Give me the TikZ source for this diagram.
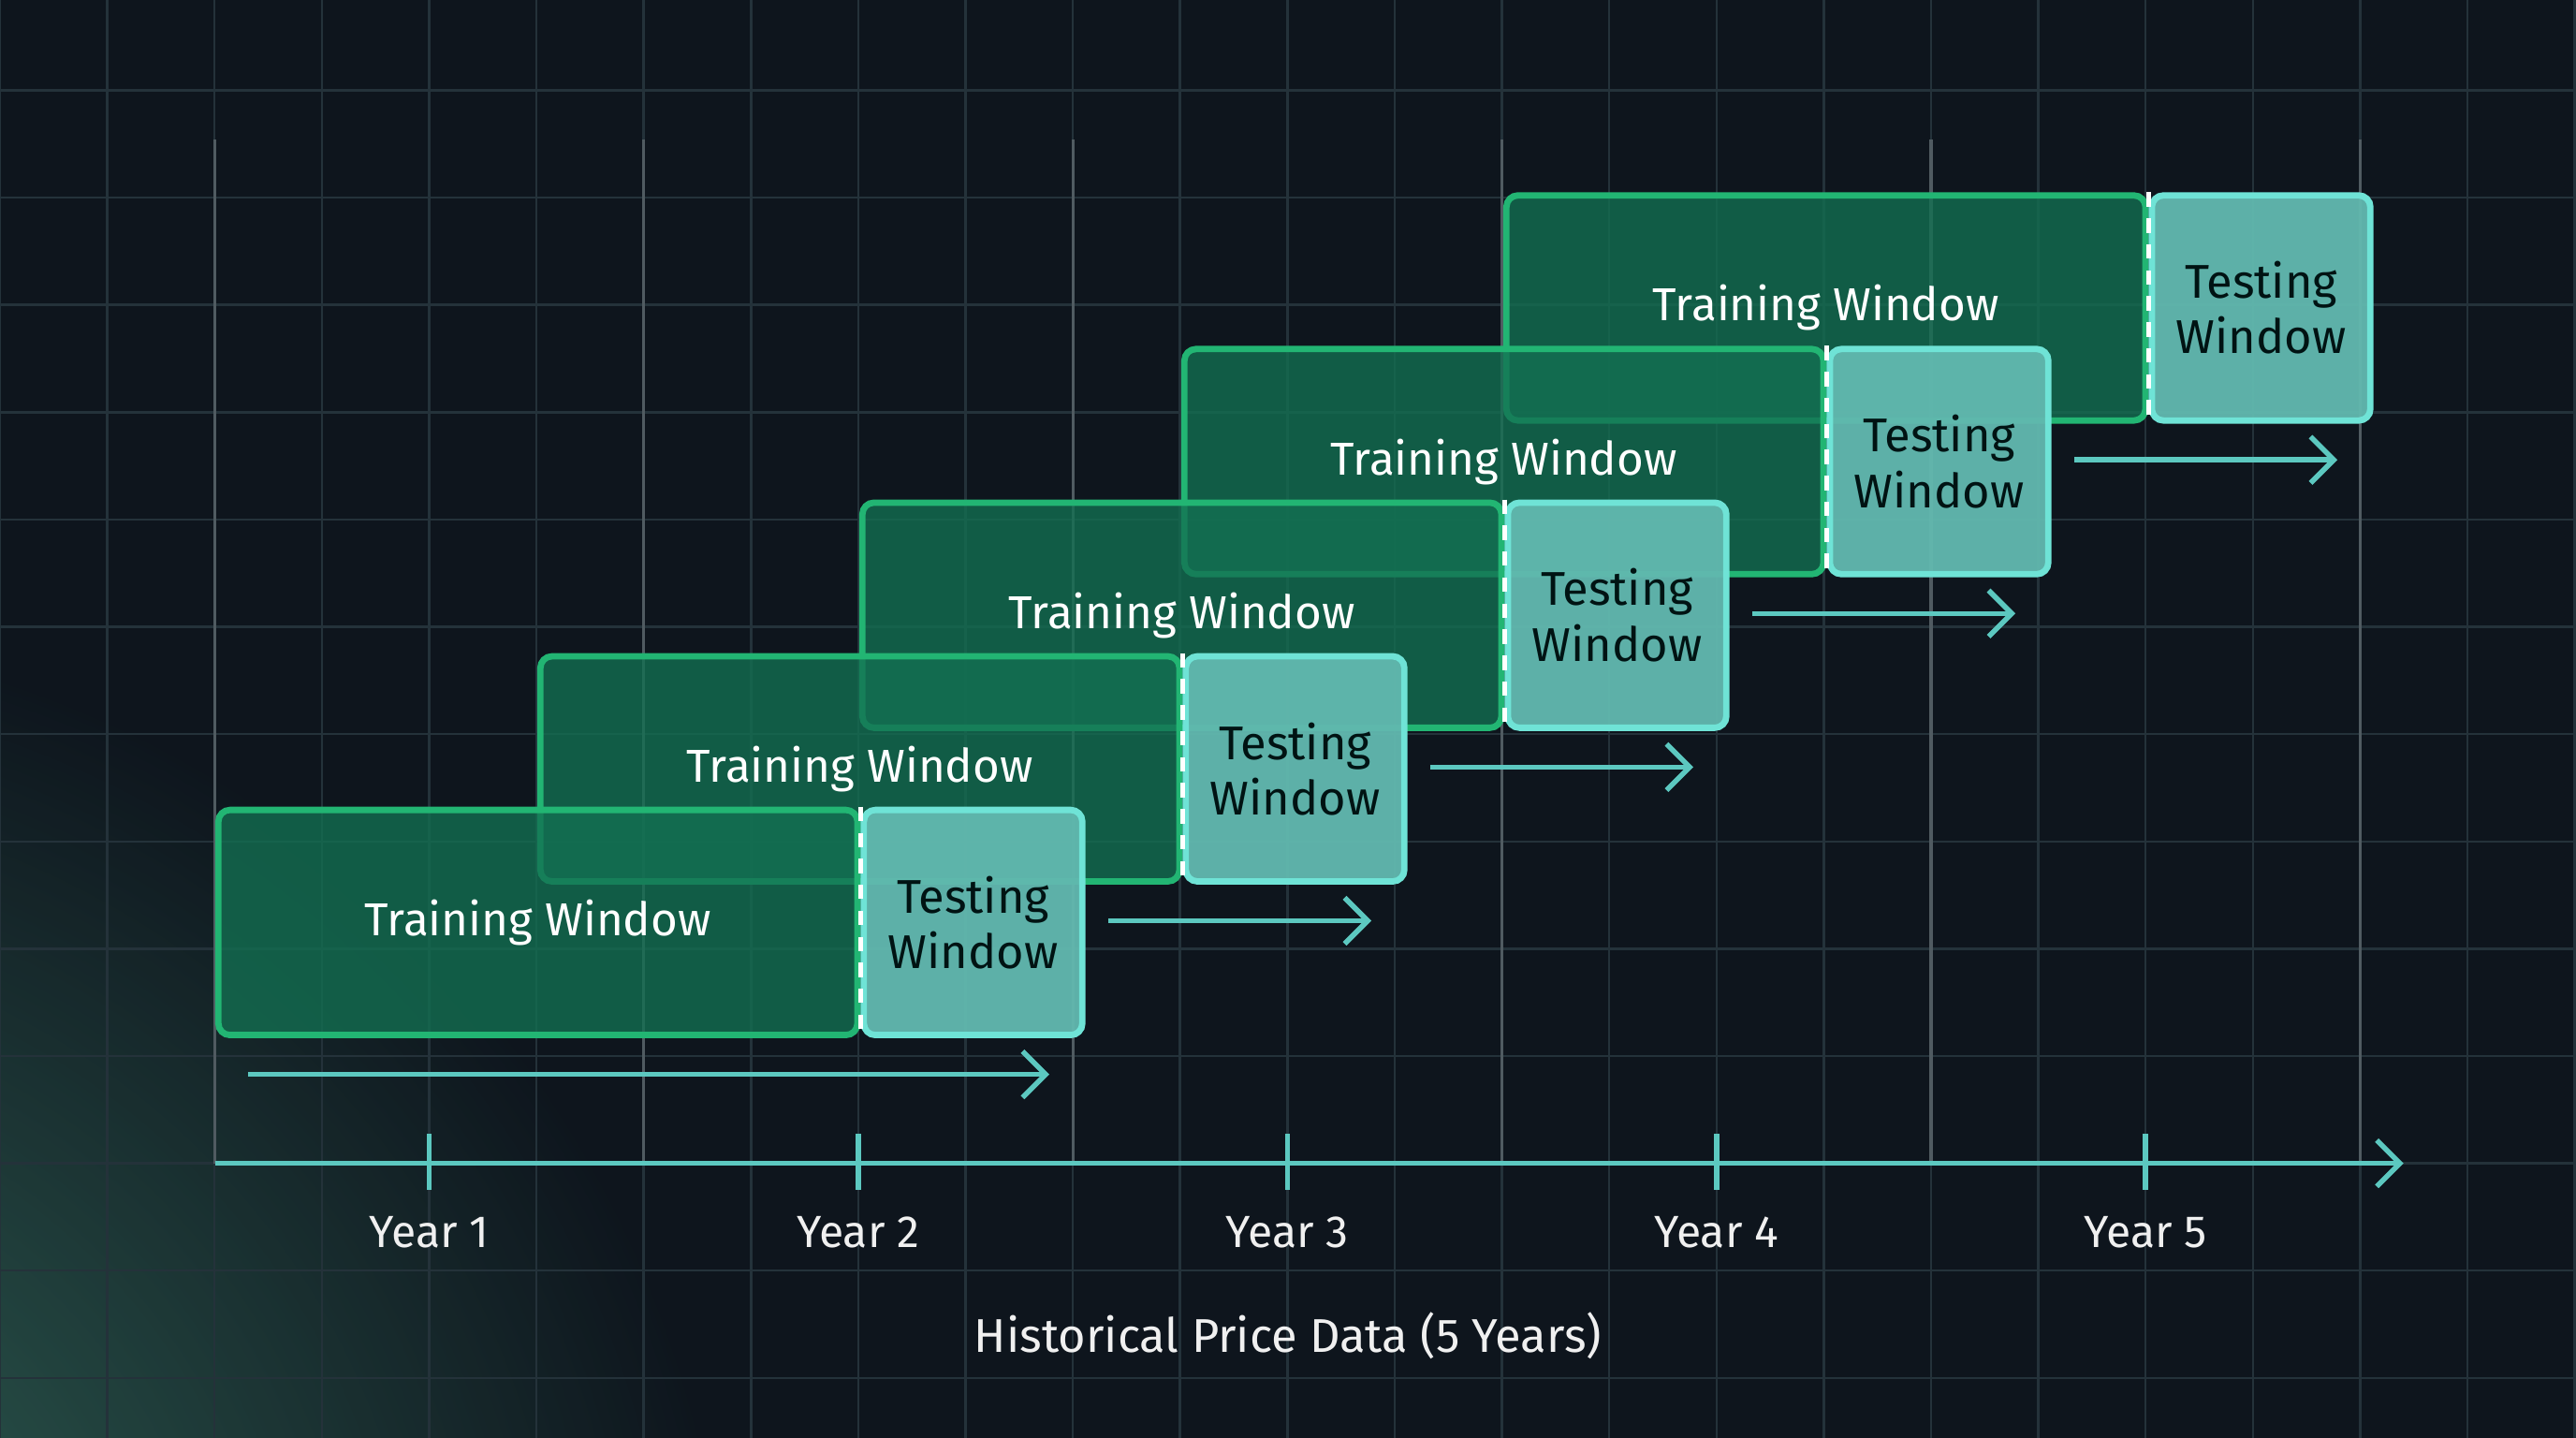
\documentclass[tikz,border=0pt]{standalone}
\usepackage{fontspec}
\setmainfont{Fira Sans}
\usetikzlibrary{
  arrows.meta,
  calc,
  positioning
}
\definecolor{bgdark}{HTML}{0E151D}
\definecolor{gridcol}{HTML}{24323A}
\definecolor{trainfill}{HTML}{137052}
\definecolor{trainedge}{HTML}{22B573}
\definecolor{testfill}{HTML}{62B9B0}
\definecolor{testedge}{HTML}{6FE3D6}
\definecolor{axiscol}{HTML}{5CC8C0}
\tikzset{
  % For the faint background grid.
  gridline/.style={
    draw=gridcol,
    line width=0.4pt},
%
  % For the brighter year lines.
  yearline/.style={
    draw=gridcol!80!white,
    line width=0.5pt},
%
  % For training windows.
  train/.style={
    draw=trainedge,
    line width=1.1pt,
    fill=trainfill,
    fill opacity=0.78,
    text opacity=1,
    rounded corners=2pt,
    minimum width=3.89cm,
    minimum height=1.37cm,
    inner sep=0pt,
    anchor=north west,
    text=white,
    font=\fontsize{8}{9.5}\selectfont},
%
  % For testing windows.
  test/.style={
    draw=testedge,
    line width=1.1pt,
    fill=testfill,
    fill opacity=0.95,
    text opacity=1,
    rounded corners=2pt,
    minimum width=1.33cm,
    minimum height=1.37cm,
    inner sep=0pt,
    anchor=north west,
    align=center,
    text=black!85!teal,
    font=\fontsize{8.2}{9.6}\selectfont},
%
  % For the dashed split between the windows.
  split/.style={
    draw=white,
    line width=0.9pt,
    dash pattern=on 2.5pt off 2pt},
%
  % For the forward arrows.
  forward/.style={
    draw=axiscol,
    line width=0.9pt,
    -{Straight Barb[length=4pt,width=8pt]}},
%
  % For year labels.
  year/.style={
    text=white!88!gray,
    font=\fontsize{7.8}{9}\selectfont}
}

\begin{document}
\begin{tikzpicture}
  \useasboundingbox (0,0) rectangle (15.68,8.75);
  \fill[bgdark] (0,0) rectangle (15.68,8.75);
  \begin{scope}
    \clip (0,0) rectangle (15.68,8.75);
    \shade[inner color=trainfill!80, outer color=bgdark, opacity=0.7]
      (-2,-1.5) circle (6.5);

    % grid
    \draw[gridline, yshift=0.364cm] (0,-0.653) grid[step=0.653] (15.68,8.75);
    \foreach \x in {0,...,5}
      \draw[yearline] (1.306+2.612*\x,1.67) -- (1.306+2.612*\x,7.9);
  \end{scope}

  % windows, top one first so the lower ones lie over it
  \foreach \i in {4,3,2,1,0}
    {\node[train] (train\i) at (1.31+1.96*\i,3.84+0.935*\i) {Training Window};
     \node[test] (test\i) at (train\i.north east) {Testing\\Window};
     \draw[split] (test\i.north west) -- (test\i.south west);
     \coordinate (arrowend\i) at ($(test\i.south east)+(-0.22,-0.22)$);
    }

  % forward arrows
  \draw[forward] ($(train0.south west)+(0.2,-0.22)$) -- (arrowend0);
  \foreach \i in {1,...,4}
    \draw[forward] ($(arrowend\i)+(-1.6,0)$) -- (arrowend\i);

  % axis
  \coordinate (axisstart) at (1.31,1.67);
  \coordinate (axisend) at (14.63,1.67);
  \draw[forward] (axisstart) -- (axisend);
  \foreach \y in {1,...,5}
    {\coordinate (tick\y) at (2.612*\y,1.67);
     \draw[axiscol, line width=0.9pt] ($(tick\y)+(0,0.18)$) -- ($(tick\y)+(0,-0.16)$);
     \node[year] (year\y) at ($(tick\y)+(0,-0.42)$) {Year \y};
    }
  \node[year, font=\fontsize{8.2}{10}\selectfont] (title) at (7.84,0.62)
    {Historical Price Data (5 Years)};
\end{tikzpicture}
\end{document}
